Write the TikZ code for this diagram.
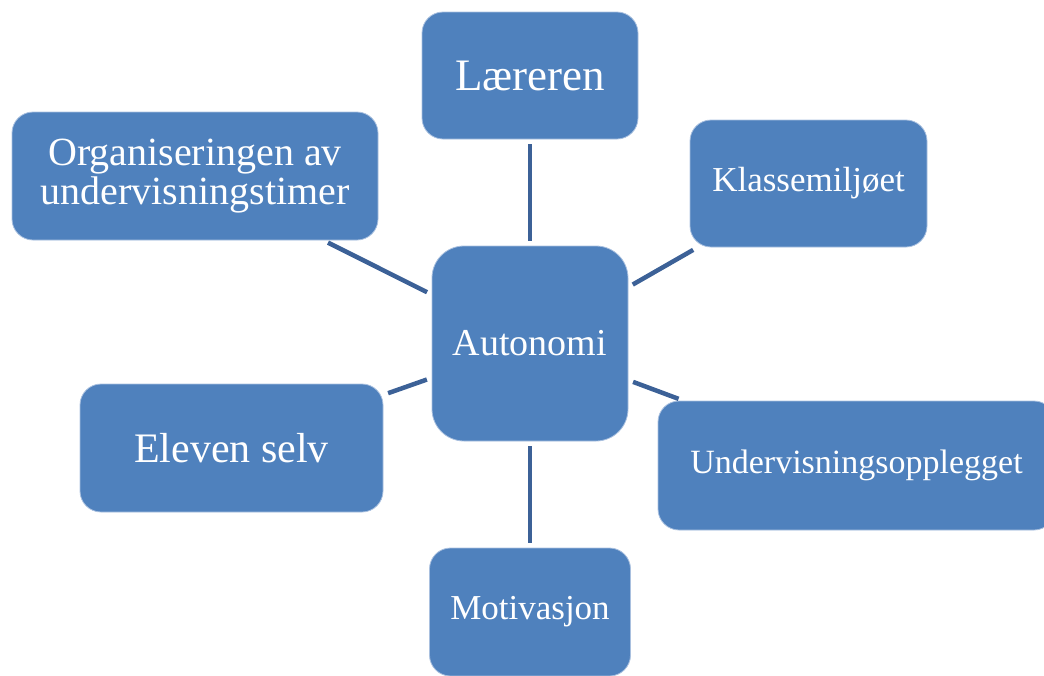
\documentclass[tikz,border=0pt]{standalone}
\usepackage{fontspec}
\setmainfont{Liberation Serif}
\definecolor{boxblue}{HTML}{4F81BD}
\definecolor{boxrim}{HTML}{A9C0DF}
\definecolor{linkblue}{HTML}{3C6197}

\begin{document}
\begin{tikzpicture}[x=1pt,y=-1pt]
  \tikzstyle{box}=[rectangle,rounded corners=21pt,fill=boxblue,draw=boxrim,
                   line width=0.8pt,text=white,align=center,inner sep=0pt,
                   minimum height=128pt]
  \tikzstyle{link}=[draw=linkblue,line width=4.5pt,shorten >=5pt,shorten <=5pt]

  \useasboundingbox (0,0) rectangle (1044,675);
  \clip (0,0) rectangle (1044,675);

  % centre
  \node [box,minimum width=196pt,minimum height=195pt,rounded corners=32pt,
         font=\fontsize{38}{40}\selectfont] (autonomi) at (530,343.5) {Autonomi};

  % ring
  \node [box,minimum width=216pt,minimum height=127pt,
         font=\fontsize{45}{47}\selectfont] (laereren) at (530,75.5) {Læreren}
    edge [link] (autonomi);
  \node [box,minimum width=366pt,
         font=\fontsize{40}{39}\selectfont] (organisering) at (195,176)
    {Organiseringen av\\undervisningstimer}
    edge [link] (autonomi);
  \node [box,minimum width=237pt,minimum height=127pt,
         font=\fontsize{35}{37}\selectfont] (klassemiljo) at (808.5,183.5) {Klassemiljøet}
    edge [link] (autonomi);
  \node [box,minimum width=303pt,
         font=\fontsize{42}{44}\selectfont] (eleven) at (231.5,448) {Eleven selv}
    edge [link] (autonomi);
  \node [box,minimum width=397pt,minimum height=129pt,
         font=\fontsize{34}{36}\selectfont] (opplegg) at (856.5,465.5) {Undervisningsopplegget}
    edge [link] (autonomi);
  \node [box,minimum width=201pt,
         font=\fontsize{35}{37}\selectfont] (motivasjon) at (530,612) {Motivasjon}
    edge [link] (autonomi);
\end{tikzpicture}
\end{document}
